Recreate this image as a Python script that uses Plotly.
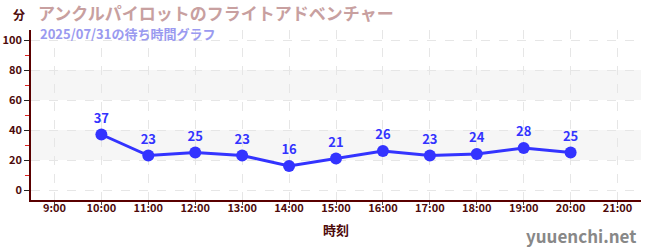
import plotly.graph_objects as go

hours = [10, 11, 12, 13, 14, 15, 16, 17, 18, 19, 20]
waits = [37, 23, 25, 23, 16, 21, 26, 23, 24, 28, 25]
tick_vals = list(range(9, 22))
tick_text = [f"{h}:00" for h in tick_vals]
y_ticks = [0, 20, 40, 60, 80, 100]
bands = [(20, 40), (60, 80)]

title = "アンクルパイロットのフライトアドベンチャー"
subtitle = "2025/07/31の待ち時間グラフ"

FONT = "Noto Sans CJK JP"
DARK = "#4d0a0a"

fig = go.Figure()
fig.add_trace(go.Scatter(
    x=hours, y=waits, mode="lines+markers+text",
    line=dict(color="#3333ff", width=3),
    marker=dict(color="#3333ff", size=12),
    text=[str(v) for v in waits], textposition="top center",
    textfont=dict(color="#3333ff", size=13, family=FONT, weight="bold"),
    cliponaxis=False, hoverinfo="skip"))

shapes = []
for lo, hi in bands:
    shapes.append(dict(type="rect", xref="paper", yref="y", x0=0, x1=1, y0=lo, y1=hi,
                       fillcolor="#f6f6f6", line=dict(width=0), layer="below"))

fig.update_layout(
    width=650, height=250,
    margin=dict(l=31, r=9, t=30, b=50, autoexpand=False),
    paper_bgcolor="white", plot_bgcolor="white",
    showlegend=False,
    shapes=shapes,
    font=dict(family=FONT, color=DARK),
    xaxis=dict(range=[8.5, 21.5], tickvals=tick_vals, ticktext=tick_text,
               showline=True, linecolor="#5a0000", linewidth=1.5,
               ticks="outside", ticklen=3, tickcolor="#555", ticklabelstandoff=-6,
               showgrid=True, gridcolor="#e6e6e6", griddash="dash", gridwidth=1,
               tickfont=dict(size=11, family=FONT, color=DARK, weight="bold"),
               title=dict(text="時刻", font=dict(size=13, family=FONT, color=DARK, weight="bold"), standoff=12),
               zeroline=False, fixedrange=True, automargin=False),
    yaxis=dict(range=[-6.67, 106.67], tickvals=y_ticks,
               showline=True, linecolor="#5a0000", linewidth=1.5,
               ticks="outside", ticklen=5, tickcolor="#222",
               minor=dict(tickvals=[10, 30, 50, 70, 90], ticks="outside", ticklen=4, tickcolor="#dd2222", showgrid=False),
               showgrid=True, gridcolor="#e6e6e6", griddash="dash", gridwidth=1,
               tickfont=dict(size=11, family=FONT, color=DARK, weight="bold"),
               zeroline=False, fixedrange=True, automargin=False),
    annotations=[
        dict(text=title, xref="paper", yref="paper", x=0.009, y=1.0, yshift=32,
             xanchor="left", yanchor="top", showarrow=False,
             font=dict(size=17, family=FONT, color="#c8a0a0", weight="bold")),
        dict(text=subtitle, xref="paper", yref="paper", x=0.012, y=1.0, yshift=8,
             xanchor="left", yanchor="top", showarrow=False,
             font=dict(size=13, family=FONT, color="#9a9af0", weight="bold")),
        dict(text="分", xref="paper", yref="paper", x=0, y=1.0, xshift=-20, yshift=26,
             xanchor="left", yanchor="top", showarrow=False,
             font=dict(size=12, family=FONT, color=DARK, weight="bold")),
        dict(text="yuuenchi.net", xref="paper", yref="paper", x=1.0, y=0, xshift=-3, yshift=-50,
             xanchor="right", yanchor="bottom", showarrow=False,
             font=dict(size=17, family=FONT, color="#888888", weight="bold")),
    ],
)

fig.write_html("out.html")
